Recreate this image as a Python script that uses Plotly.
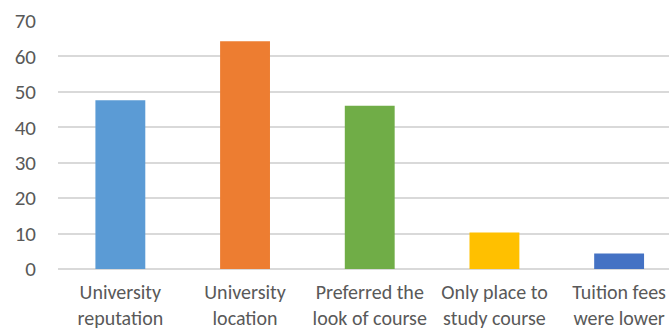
import plotly.graph_objects as go

# Reasons given for choosing the university
categories = [
    "University<br>reputation",
    "University<br>location",
    "Preferred the<br>look of course",
    "Only place to<br>study course",
    "Tuition fees<br>were lower",
]
values = [47.6, 64.3, 46.1, 10.3, 4.4]
bar_colors = ["#5B9BD5", "#ED7D31", "#70AD47", "#FFC000", "#4472C4"]
y_ticks = [0, 10, 20, 30, 40, 50, 60, 70]

font_family = "Calibri, Carlito, Lato, sans-serif"
text_color = "#595959"
grid_color = "#D9D9D9"

fig = go.Figure(
    go.Bar(
        x=list(range(len(categories))),
        y=values,
        marker=dict(color=bar_colors, line=dict(width=0)),
        width=0.4,
        hoverinfo="y",
    )
)

fig.update_layout(
    width=669,
    height=329,
    margin=dict(l=58, r=0, t=21, b=60),
    paper_bgcolor="white",
    plot_bgcolor="white",
    showlegend=False,
    font=dict(family=font_family, size=20, color=text_color),
)

fig.update_xaxes(
    tickmode="array",
    tickvals=list(range(len(categories))),
    ticktext=categories,
    range=[-0.5, 4.4],
    showgrid=False,
    showline=False,
    zeroline=False,
    ticks="",
    automargin=False,
    ticklabelstandoff=9,
    tickfont=dict(size=20, color=text_color),
)

fig.update_yaxes(
    range=[0, 70],
    tickmode="array",
    tickvals=y_ticks,
    showgrid=True,
    gridcolor=grid_color,
    gridwidth=1.5,
    zeroline=True,
    zerolinecolor=grid_color,
    zerolinewidth=1.5,
    showline=False,
    ticks="",
    automargin=False,
    ticklabelstandoff=21,
    tickfont=dict(size=21, color=text_color),
)

fig.write_html("out.html")
